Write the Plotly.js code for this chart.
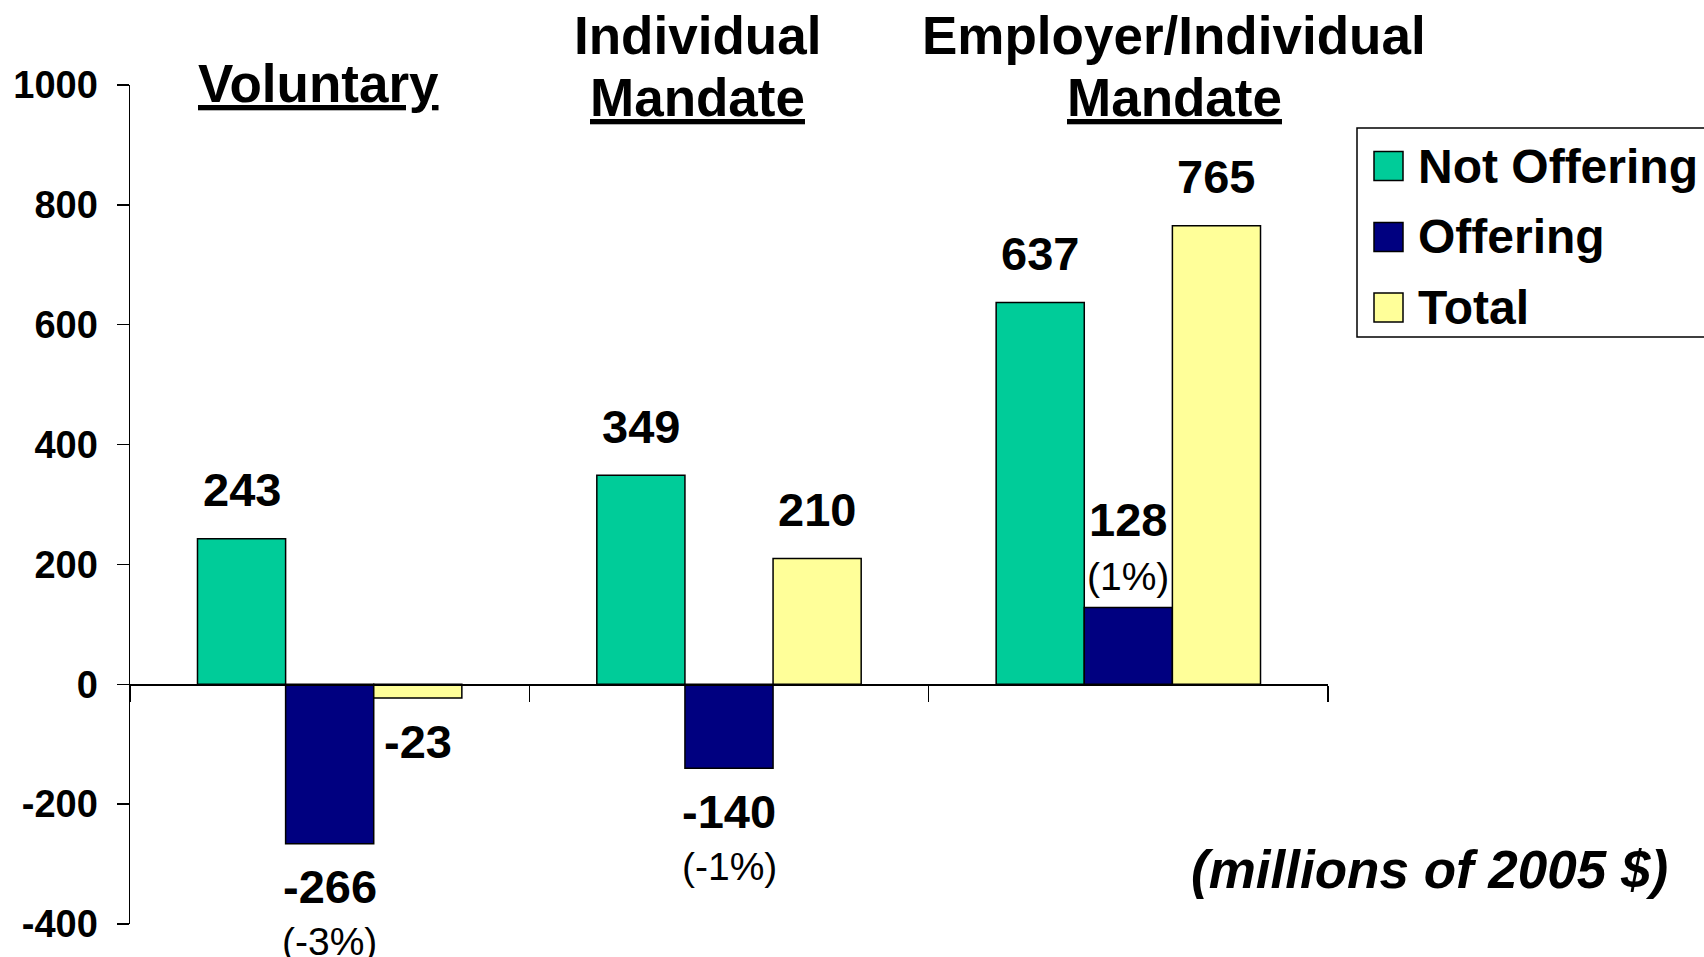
<!DOCTYPE html>
<html>
<head>
<meta charset="utf-8">
<script src="https://cdn.plot.ly/plotly-3.0.1.min.js"></script>
<style>
  html, body { margin: 0; padding: 0; background: #ffffff; }
  #chart { width: 1704px; height: 957px; }
  #chart svg text, #chart svg tspan {
    text-decoration-skip-ink: none;
    text-decoration-thickness: 4px;
    text-underline-offset: 5px;
  }
</style>
</head>
<body>
<div id="chart"></div>
<script>
// ---- data ----
const categories = ['Voluntary', 'Individual Mandate', 'Employer/Individual Mandate'];
const seriesNames = ['Not Offering', 'Offering', 'Total'];
const notOffering = [243, 349, 637];
const offering = [-266, -140, 128];
const total = [-23, 210, 765];
const offeringPct = ['(-3%)', '(-1%)', '(1%)'];
const groupTitleLines = [['Voluntary'], ['Individual', 'Mandate'], ['Employer/Individual', 'Mandate']];
const yTicks = [-400, -200, 0, 200, 400, 600, 800, 1000];
const unitNote = '(millions of 2005 $)';

// ---- styling ----
const FONT = 'Liberation Sans, Arial, sans-serif';
const colors = ['#00CC99', '#000080', '#FFFF99'];
const W = 1704, H = 957;
const margin = { l: 130, r: 376, t: 85, b: 33, pad: 0 };
const bargap = 0.338;
const plotW = W - margin.l - margin.r;
const plotH = H - margin.t - margin.b;
const catW = plotW / categories.length;
const barW = catW * (1 - bargap) / 3;
function px2paperX(px) { return (px - margin.l) / plotW; }
function px2paperY(py) { return (H - margin.b - py) / plotH; }

const seriesValues = [notOffering, offering, total];

const traces = seriesValues.map((vals, k) => ({
  type: 'bar',
  name: seriesNames[k],
  x: categories,
  y: vals,
  marker: { color: colors[k], line: { color: '#000000', width: 1.5 } },
  hoverinfo: 'skip',
  showlegend: false
}));

const annotations = [];
const shapes = [];

// value labels
seriesValues.forEach((vals, k) => {
  const xshift = (k - 1) * barW;
  vals.forEach((v, i) => {
    const hasPct = (k === 1);
    let ys;
    if (v >= 0) ys = hasPct ? 88 : 49;
    else ys = -43;
    annotations.push({
      x: categories[i], y: v, xref: 'x', yref: 'y',
      xshift: xshift, yshift: ys,
      text: '<b>' + v + '</b>', showarrow: false,
      xanchor: 'center', yanchor: 'middle',
      font: { family: FONT, size: 47, color: '#000000' }
    });
    if (hasPct) {
      annotations.push({
        x: categories[i], y: v, xref: 'x', yref: 'y',
        xshift: xshift, yshift: v >= 0 ? 31 : -98,
        text: offeringPct[i], showarrow: false,
        xanchor: 'center', yanchor: 'middle',
        font: { family: FONT, size: 39, color: '#000000' }
      });
    }
  });
});

// group titles
const titlePos = [
  { x: 318, ys: [84] },
  { x: 697, ys: [36, 98] },
  { x: 1174, ys: [36, 98] }
];
groupTitleLines.forEach((lines, i) => {
  lines.forEach((line, j) => {
    const last = (j === lines.length - 1);
    annotations.push({
      xref: 'paper', yref: 'paper',
      x: px2paperX(titlePos[i].x), y: px2paperY(titlePos[i].ys[j]),
      text: last ? '<b><u>' + line + '</u></b>' : '<b>' + line + '</b>',
      showarrow: false, xanchor: 'center', yanchor: 'middle',
      font: { family: FONT, size: 53, color: '#000000' }
    });
  });
});

// unit note
annotations.push({
  xref: 'paper', yref: 'paper',
  x: px2paperX(1429), y: px2paperY(869),
  text: '<b><i>' + unitNote + '</i></b>',
  showarrow: false, xanchor: 'center', yanchor: 'middle',
  font: { family: FONT, size: 53, color: '#000000' }
});

// legend (box, swatches, names)
const legBox = { x0: 1357, x1: 1712, y0: 128, y1: 337 };
shapes.push({
  type: 'rect', xref: 'paper', yref: 'paper',
  x0: px2paperX(legBox.x0), x1: px2paperX(legBox.x1),
  y0: px2paperY(legBox.y1), y1: px2paperY(legBox.y0),
  line: { color: '#000000', width: 1.5 }, fillcolor: '#ffffff', layer: 'above'
});
const legRows = [166, 237, 307.5];
const sw = 29;
seriesNames.forEach((nm, k) => {
  const cy = legRows[k];
  shapes.push({
    type: 'rect', xref: 'paper', yref: 'paper',
    x0: px2paperX(1374), x1: px2paperX(1374 + sw),
    y0: px2paperY(cy + sw / 2), y1: px2paperY(cy - sw / 2),
    line: { color: '#000000', width: 1.5 }, fillcolor: colors[k], layer: 'above'
  });
  annotations.push({
    xref: 'paper', yref: 'paper',
    x: px2paperX(1416), y: px2paperY(cy),
    text: '<b>' + nm + '</b>', showarrow: false,
    xanchor: 'left', yanchor: 'middle',
    font: { family: FONT, size: 48, color: '#000000' }
  });
});

const yMin = -400, yMax = 1000;
const layout = {
  width: W, height: H,
  margin: margin,
  paper_bgcolor: '#ffffff',
  plot_bgcolor: '#ffffff',
  barmode: 'group',
  bargap: bargap,
  bargroupgap: 0,
  showlegend: false,
  xaxis: {
    type: 'category',
    anchor: 'free',
    position: (0 - yMin) / (yMax - yMin),
    showline: true, linecolor: '#000000', linewidth: 1.5,
    ticks: 'outside', ticklen: 16, tickwidth: 1.5, tickcolor: '#000000',
    tickson: 'boundaries',
    showticklabels: false,
    showgrid: false, zeroline: false,
    fixedrange: true
  },
  yaxis: {
    range: [yMin, yMax],
    tickmode: 'array', tickvals: yTicks, ticktext: yTicks.map(String),
    showline: true, linecolor: '#000000', linewidth: 1.5,
    ticks: 'outside', ticklen: 12, tickwidth: 1.5, tickcolor: '#000000',
    ticklabelstandoff: 11,
    tickfont: { family: FONT, size: 38, color: '#000000', weight: 'bold' },
    showgrid: false, zeroline: false,
    fixedrange: true
  },
  shapes: shapes,
  annotations: annotations
};

Plotly.newPlot('chart', traces, layout, { staticPlot: true, displayModeBar: false });
</script>
</body>
</html>
